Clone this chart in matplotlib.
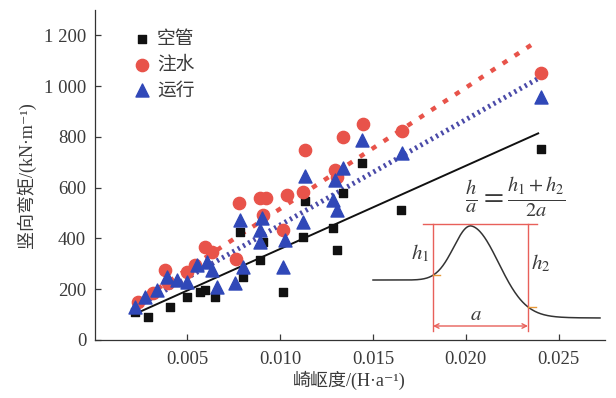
import numpy as np
import matplotlib
matplotlib.use("Agg")
import matplotlib.pyplot as plt

plt.rcParams["font.family"] = ["Liberation Serif", "Noto Sans CJK SC", "DejaVu Serif"]
plt.rcParams["mathtext.fontset"] = "stix"

# 空管 (empty pipe)
empty_x = [0.00218, 0.00288, 0.00407, 0.00498, 0.00568, 0.00595, 0.00649, 0.00784,
           0.00800, 0.00892, 0.00908, 0.01016, 0.01124, 0.01134, 0.01285, 0.01307,
           0.01339, 0.01441, 0.01651, 0.02406]
empty_y = [110, 90, 130, 169, 189, 197, 169, 424, 248, 314, 385, 189, 405, 546, 440,
           354, 578, 696, 511, 751]

# 注水 (water filled)
water_x = [0.00234, 0.00315, 0.00380, 0.00396, 0.00498, 0.00541, 0.00595, 0.00633,
           0.00762, 0.00779, 0.00892, 0.00924, 0.00908, 0.01016, 0.01037, 0.01123,
           0.01134, 0.01296, 0.01307, 0.01339, 0.01447, 0.01657, 0.02406]
water_y = [149, 185, 275, 224, 267, 295, 366, 346, 318, 538, 558, 558, 491, 432, 570,
           582, 747, 668, 641, 798, 849, 825, 1053]

# 运行 (in operation)
run_x = [0.00218, 0.00272, 0.00337, 0.00391, 0.00445, 0.00498, 0.00552, 0.00606,
         0.00633, 0.00660, 0.00757, 0.00784, 0.00800, 0.00892, 0.00892, 0.00903,
         0.01016, 0.01026, 0.01123, 0.01134, 0.01285, 0.01296, 0.01307, 0.01339,
         0.01441, 0.01657, 0.02406]
run_y = [130, 169, 197, 248, 236, 228, 295, 307, 275, 208, 224, 472, 287, 432, 385,
         479, 287, 393, 464, 648, 550, 629, 511, 676, 786, 735, 959]

# fitted lines (end points)
fit_x = [0.0021, 0.0239]
fit_empty = [100, 814]
fit_water = [140, 1180]
fit_run = [125, 1030]

x_ticks = [0.005, 0.010, 0.015, 0.020, 0.025]
x_labels = ["0.005", "0.010", "0.015", "0.020", "0.025"]
y_ticks = [0, 200, 400, 600, 800, 1000, 1200]
y_labels = ["0", "200", "400", "600", "800", "1 000", "1 200"]

RED = "#e8534a"
BLUE = "#3048b8"
BLACK = "#111111"
TEXT = "#3a3a3a"

fig = plt.figure(figsize=(6.16, 3.98), dpi=100)
ax = fig.add_axes([94.5 / 616, 58 / 398, 510.5 / 616, 330 / 398])

ax.plot(fit_x, fit_empty, color=BLACK, lw=1.4, zorder=2)
ax.plot(fit_x, fit_water, color=RED, lw=3.2, ls=(0, (1.2, 2.0)), zorder=2)
ax.plot(fit_x, fit_run, color="#4a4aa8", lw=3.6, ls=(0, (0.45, 0.75)), zorder=2)

ax.scatter(empty_x, empty_y, marker="s", s=26, color=BLACK, label="空管", zorder=3)
ax.scatter(water_x, water_y, marker="o", s=78, color=RED, label="注水", zorder=4)
ax.scatter(run_x, run_y, marker="^", s=88, color=BLUE, label="运行", zorder=5)

ax.set_xlim(0, 0.0275)
ax.set_ylim(0, 1300)
ax.set_xticks(x_ticks)
ax.set_xticklabels(x_labels)
ax.set_yticks(y_ticks)
ax.set_yticklabels(y_labels)
ax.tick_params(direction="in", length=4, width=0.9, labelsize=13.5, colors=TEXT)
ax.tick_params(axis="x", pad=8)
ax.tick_params(axis="y", pad=6)
for side in ["top", "right"]:
    ax.spines[side].set_visible(False)
for side in ["left", "bottom"]:
    ax.spines[side].set_linewidth(0.9)
    ax.spines[side].set_color("#333333")

ax.set_xlabel("崎岖度/(H·a⁻¹)", fontsize=13, color=TEXT, labelpad=2)
ax.set_ylabel("竖向弯矩/(kN·m⁻¹)", fontsize=13, color=TEXT, labelpad=6)

leg = ax.legend(loc="upper left", bbox_to_anchor=(0.06, 0.96), frameon=False,
                fontsize=13.5, handletextpad=0.3, labelspacing=0.45,
                handlelength=1.0, borderaxespad=0)
for t in leg.get_texts():
    t.set_color(TEXT)

# schematic inset: road profile with h1, h2, a
ins = fig.add_axes([370 / 616, 63 / 398, 236 / 616, 180 / 398])
ins.set_xlim(370, 606)
ins.set_ylim(335, 155)
ins.axis("off")
px = np.linspace(373, 600, 300)
base = 280 + 38 / (1 + np.exp(-(px - 500) / 15))
width = np.where(px < 472, 25, 37)
profile = base - 59 * np.exp(-((px - 472) / width) ** 2)
ins.plot(px, profile, color="#333333", lw=1.1)
ins.plot([423, 537], [224, 224], color="#e8605a", lw=1.0)
ins.plot([433, 433], [224, 331], color="#e8605a", lw=1.0)
ins.plot([528, 528], [224, 331], color="#e8605a", lw=1.0)
ins.annotate("", xy=(433, 326), xytext=(528, 326),
             arrowprops=dict(arrowstyle="<->", color="#e8605a", lw=1.0,
                             mutation_scale=8, shrinkA=0, shrinkB=0))
ins.plot([433, 440], [275, 275], color="#e89a3a", lw=1.0)
ins.plot([528, 536], [307, 307], color="#e89a3a", lw=1.0)
ins.text(420, 253, r"$h_1$", fontsize=15, ha="center", va="center", color=TEXT)
ins.text(541, 263, r"$h_2$", fontsize=15, ha="center", va="center", color=TEXT)
ins.text(476, 316, r"$a$", fontsize=15, ha="center", va="center", color=TEXT)
ins.text(515, 197, r"$\frac{h}{a}=\frac{h_1+h_2}{2a}$", fontsize=21,
         ha="center", va="center", color=TEXT)

fig.savefig("out.png", dpi=100)
